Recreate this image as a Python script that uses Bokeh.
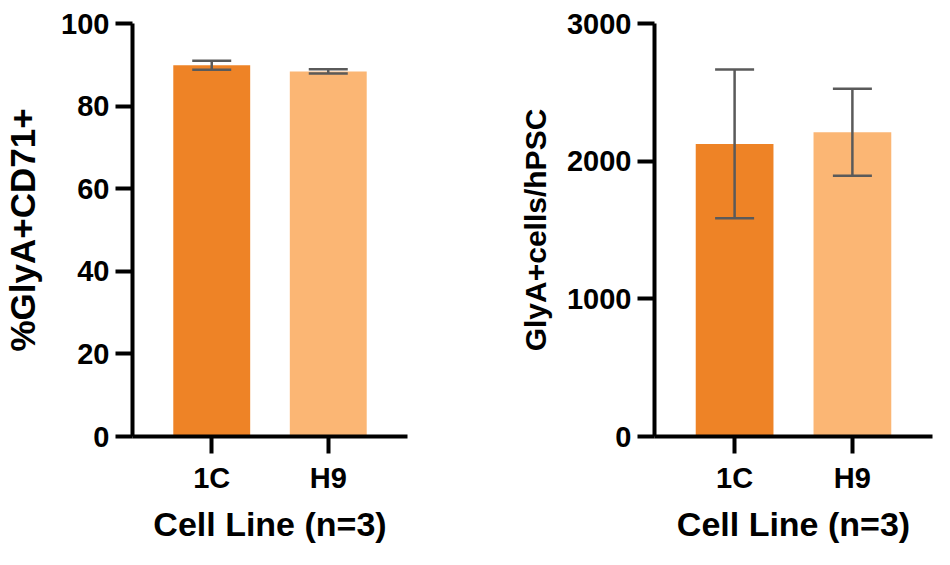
from bokeh.plotting import figure
from bokeh.models import ColumnDataSource, FactorRange, Range1d, Whisker, TeeHead, FixedTicker
from bokeh.layouts import row
from bokeh.embed import file_html
from bokeh.resources import INLINE

# ---- data ----
cell_lines = ["1C", "H9"]
bar_colors = ["#EE8326", "#FBB674"]
pct_mean = [89.9, 88.4]
pct_err = [1.1, 0.5]
count_mean = [2125, 2210]
count_err = [540, 316]
pct_ticks = [0, 20, 40, 60, 80, 100]
count_ticks = [0, 1000, 2000, 3000]
x_title = "Cell Line (n=3)"
pct_title = "%GlyA+CD71+"
count_title = "GlyA+cells/hPSC"

FONT = "Liberation Sans"
ERR_COLOR = "#5A5A5A"


def make_panel(means, errs, ymax, ticks, ytitle, ytitle_size, ytitle_standoff,
               width, height, bl, bt, br, bb):
    src = ColumnDataSource(dict(
        x=cell_lines, top=means, color=bar_colors,
        upper=[m + e for m, e in zip(means, errs)],
        lower=[m - e for m, e in zip(means, errs)],
    ))
    p = figure(x_range=FactorRange(factors=cell_lines, range_padding=0.18,
                                   range_padding_units="absolute"),
               y_range=Range1d(0, ymax),
               width=width, height=height, output_backend="svg",
               toolbar_location=None,
               min_border_left=bl, min_border_top=bt,
               min_border_right=br, min_border_bottom=bb)
    p.vbar(x="x", top="top", width=0.66, source=src, fill_color="color",
           line_color=None)
    w = Whisker(base="x", upper="upper", lower="lower", source=src,
                dimension="height", line_color=ERR_COLOR, line_width=2.5,
                upper_head=TeeHead(size=39, line_color=ERR_COLOR, line_width=2.5),
                lower_head=TeeHead(size=39, line_color=ERR_COLOR, line_width=2.5),
                level="overlay")
    p.add_layout(w)

    p.xgrid.visible = False
    p.ygrid.visible = False
    p.outline_line_color = None
    p.background_fill_color = "white"
    p.border_fill_color = "white"

    p.yaxis.ticker = FixedTicker(ticks=ticks)
    p.yaxis.minor_tick_line_color = None
    for ax in (p.xaxis[0], p.yaxis[0]):
        ax.axis_line_width = 4
        ax.axis_line_color = "black"
        ax.major_tick_line_width = 4
        ax.major_tick_line_color = "black"
        ax.major_tick_in = 0
        ax.major_tick_out = 17
        ax.major_label_text_font = FONT
        ax.major_label_text_font_style = "bold"
        ax.major_label_text_font_size = "29px"
        ax.major_label_text_color = "black"
        ax.axis_label_text_font = FONT
        ax.axis_label_text_font_style = "bold"
        ax.axis_label_text_color = "black"
    p.xaxis.axis_label_text_font_size = "34px"
    p.yaxis.axis_label_text_font_size = ytitle_size
    p.yaxis.major_label_standoff = 6
    p.yaxis.axis_label_standoff = ytitle_standoff
    p.xaxis.major_label_standoff = 8
    p.xaxis.axis_label_standoff = 8
    p.yaxis.axis_label = ytitle
    p.xaxis.axis_label = x_title
    return p


left = make_panel(pct_mean, pct_err, 100, pct_ticks, pct_title, "35px", 16,
                  500, 549, 130, 23, 93, 113)
right = make_panel(count_mean, count_err, 3000, count_ticks, count_title, "30px", 12,
                   442, 549, 154, 23, 10, 113)

layout = row(left, right)
open("out.html", "w").write(file_html(layout, INLINE))
